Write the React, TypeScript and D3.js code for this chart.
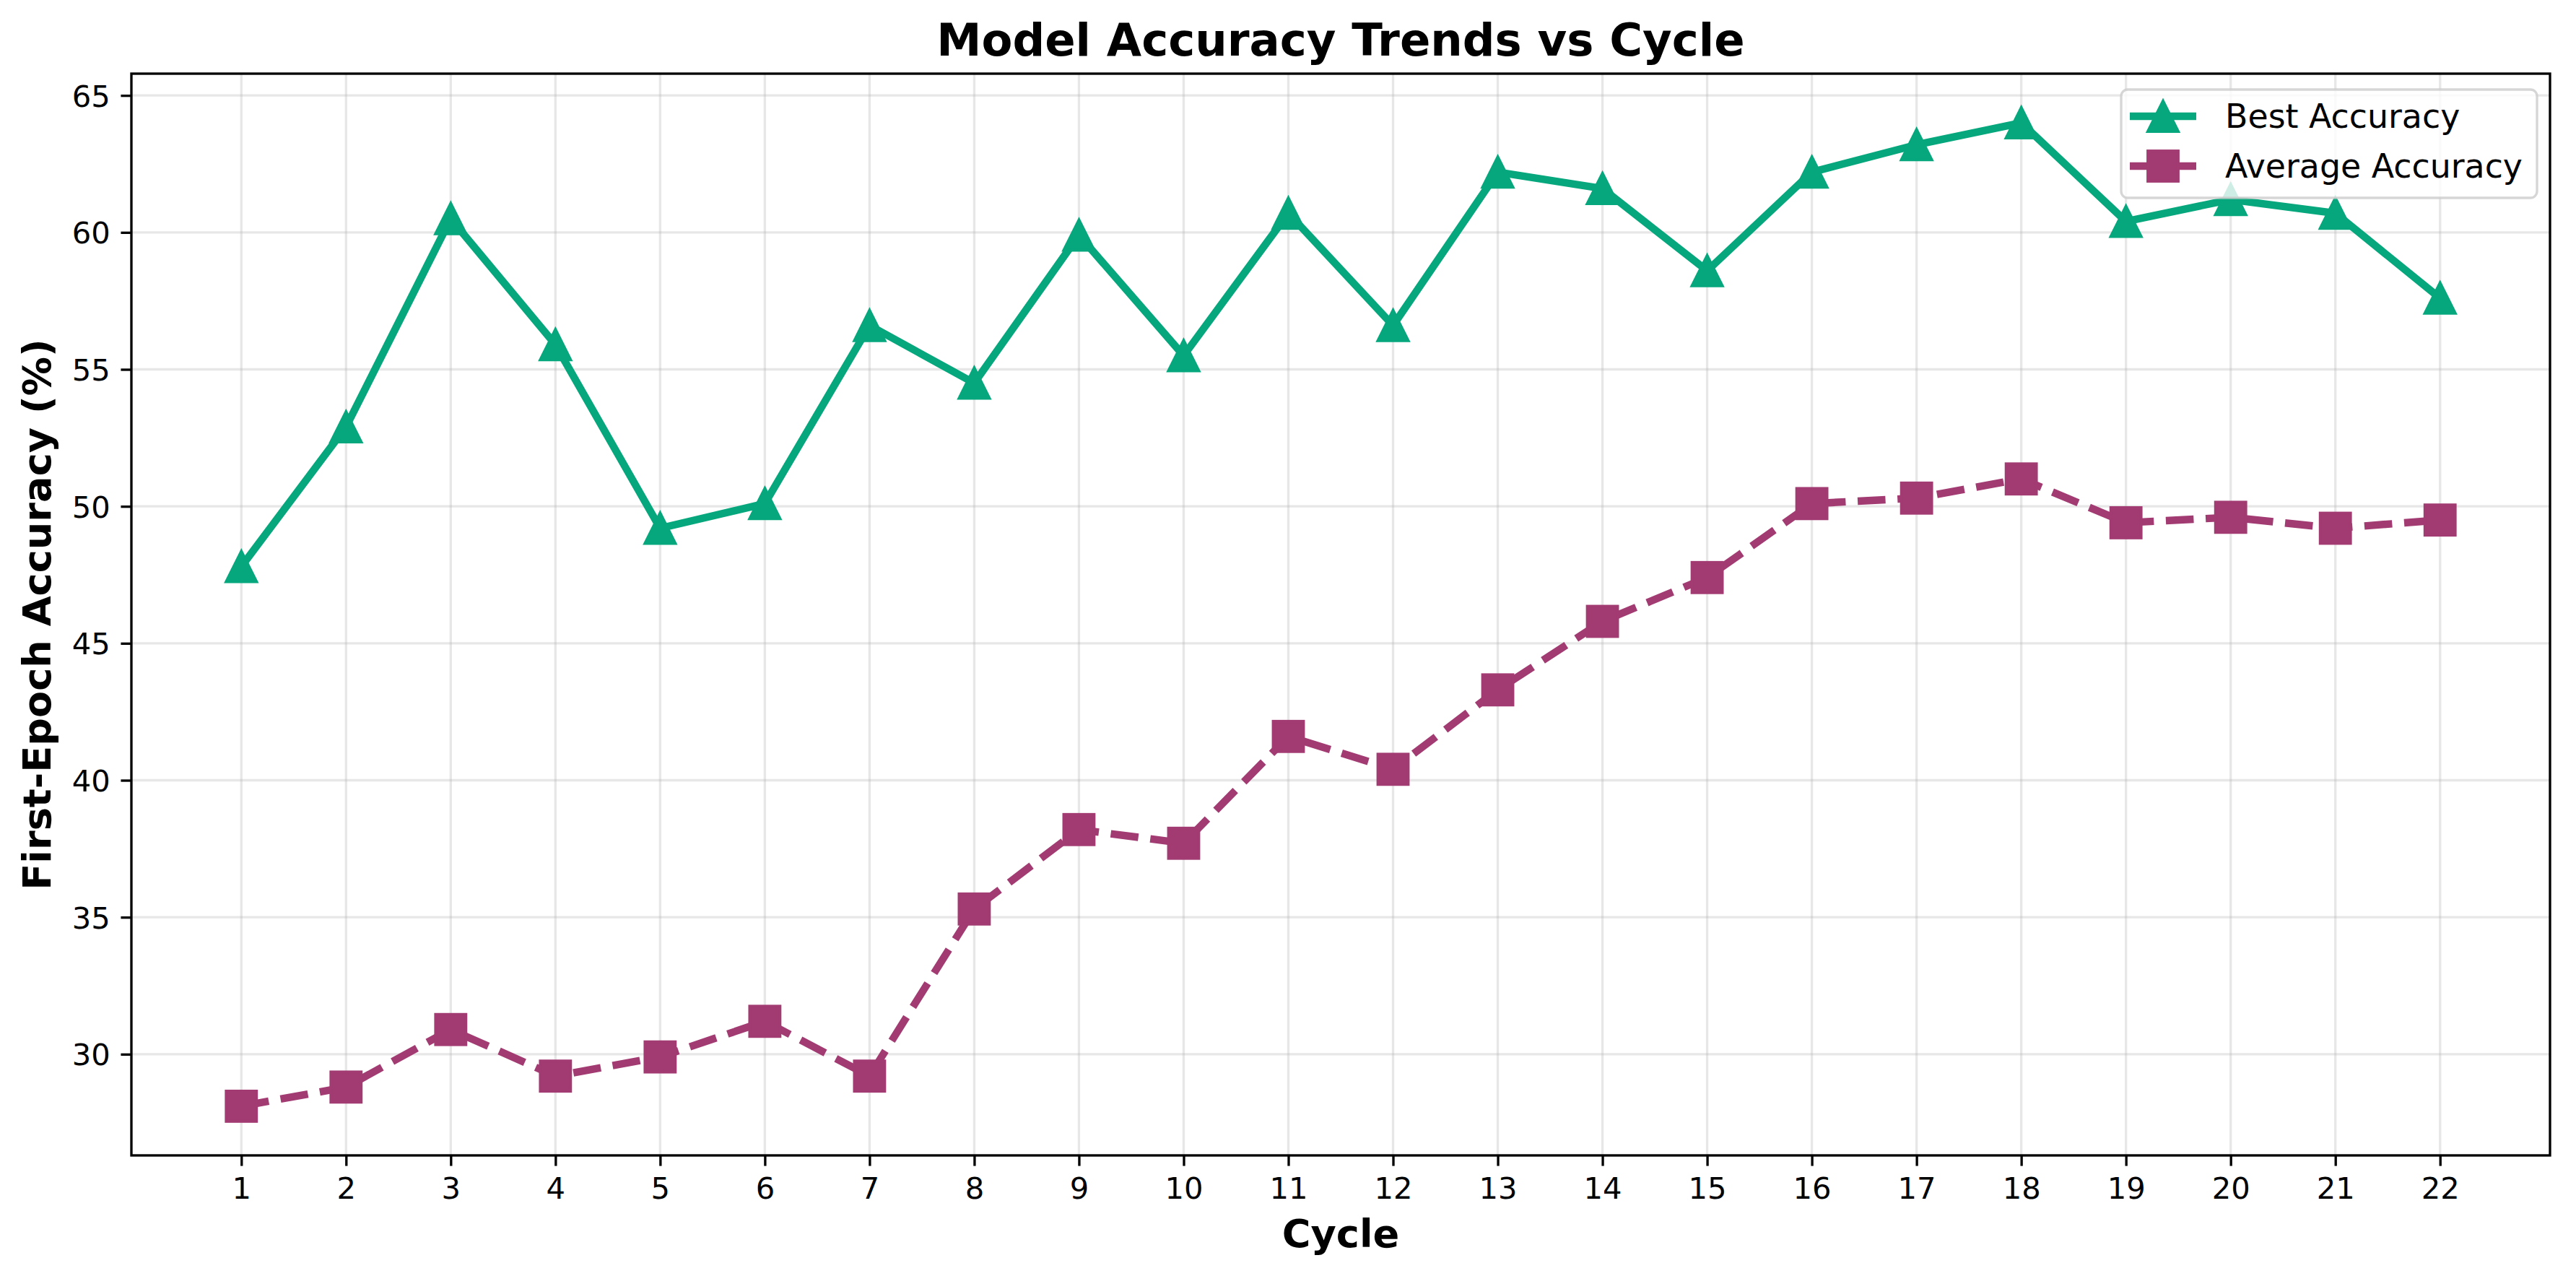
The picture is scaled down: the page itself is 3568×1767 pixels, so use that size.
import { useEffect, useRef } from 'react';
import * as d3 from 'd3';

const cycles = [1, 2, 3, 4, 5, 6, 7, 8, 9, 10, 11, 12, 13, 14, 15, 16, 17, 18, 19, 20, 21, 22];
const bestAccuracy = [47.8, 52.9, 60.5, 55.9, 49.2, 50.1, 56.6, 54.5, 59.9, 55.5, 60.7, 56.6, 62.2, 61.6, 58.6, 62.2, 63.2, 64.0, 60.4, 61.2, 60.7, 57.6];
const averageAccuracy = [28.1, 28.8, 30.9, 29.2, 29.9, 31.2, 29.2, 35.3, 38.2, 37.7, 41.6, 40.4, 43.3, 45.8, 47.4, 50.1, 50.3, 51.0, 49.4, 49.6, 49.2, 49.5];
const yTicks = [30, 35, 40, 45, 50, 55, 60, 65];
const seriesNames = ['Best Accuracy', 'Average Accuracy'];

const WIDTH = 3568;
const HEIGHT = 1767;
const PT = 300 / 72; // px per point at 300 dpi
const FONT = '"DejaVu Sans", sans-serif';
const GREEN = '#06A77D';
const PURPLE = '#A23B72';

export default function App() {
  const svgRef = useRef<SVGSVGElement>(null);

  useEffect(() => {
    document.body.style.margin = '0';
    if (!svgRef.current) return;

    const margin = { top: 102, right: WIDTH - 3532, bottom: HEIGHT - 1600, left: 182 };
    const W = WIDTH - margin.left - margin.right;
    const H = HEIGHT - margin.top - margin.bottom;

    const svg = d3.select(svgRef.current);
    svg.selectAll('*').remove();
    svg.append('rect').attr('width', WIDTH).attr('height', HEIGHT).attr('fill', 'white');

    const g = svg.append('g').attr('transform', `translate(${margin.left},${margin.top})`);

    // matplotlib-style 5% margins
    const xExt = d3.extent(cycles) as [number, number];
    const xPad = (xExt[1] - xExt[0]) * 0.05;
    const x = d3.scaleLinear().domain([xExt[0] - xPad, xExt[1] + xPad]).range([0, W]);

    const allVals = [...bestAccuracy, ...averageAccuracy];
    const yMin = d3.min(allVals) ?? 0;
    const yMax = d3.max(allVals) ?? 0;
    const yPad = (yMax - yMin) * 0.05;
    const y = d3.scaleLinear().domain([yMin - yPad, yMax + yPad]).range([H, 0]);

    svg.append('defs').append('clipPath').attr('id', 'plotClip')
      .append('rect').attr('width', W).attr('height', H);

    // grid
    const gridColor = '#b0b0b0';
    g.append('g').selectAll('line').data(cycles).enter().append('line')
      .attr('x1', (d) => x(d)).attr('x2', (d) => x(d)).attr('y1', 0).attr('y2', H)
      .attr('stroke', gridColor).attr('stroke-opacity', 0.3).attr('stroke-width', 0.8 * PT);
    g.append('g').selectAll('line').data(yTicks).enter().append('line')
      .attr('x1', 0).attr('x2', W).attr('y1', (d) => y(d)).attr('y2', (d) => y(d))
      .attr('stroke', gridColor).attr('stroke-opacity', 0.3).attr('stroke-width', 0.8 * PT);

    const plot = g.append('g').attr('clip-path', 'url(#plotClip)');
    const lw = 2.5 * PT;
    const dash = `${3.7 * 2.5 * PT},${1.6 * 2.5 * PT}`;
    const r = 5 * PT;
    const triPath = `M0,${-r}L${r},${r}L${-r},${r}Z`;

    const line = d3.line<number>().x((_, i) => x(cycles[i])).y((d) => y(d));

    // best accuracy
    plot.append('path').datum(bestAccuracy)
      .attr('fill', 'none').attr('stroke', GREEN).attr('stroke-width', lw)
      .attr('stroke-linejoin', 'round').attr('d', line);
    plot.append('g').selectAll('path').data(bestAccuracy).enter().append('path')
      .attr('d', triPath)
      .attr('transform', (d, i) => `translate(${x(cycles[i])},${y(d)})`)
      .attr('fill', GREEN).attr('stroke', GREEN).attr('stroke-width', PT).attr('stroke-linejoin', 'miter');

    // average accuracy
    plot.append('path').datum(averageAccuracy)
      .attr('fill', 'none').attr('stroke', PURPLE).attr('stroke-width', lw)
      .attr('stroke-dasharray', dash).attr('stroke-linejoin', 'round').attr('d', line);
    plot.append('g').selectAll('rect').data(averageAccuracy).enter().append('rect')
      .attr('x', (_, i) => x(cycles[i]) - r).attr('y', (d) => y(d) - r)
      .attr('width', 2 * r).attr('height', 2 * r)
      .attr('fill', PURPLE).attr('stroke', PURPLE).attr('stroke-width', PT);

    // spines
    g.append('rect').attr('width', W).attr('height', H)
      .attr('fill', 'none').attr('stroke', 'black').attr('stroke-width', 0.8 * PT);

    // x axis
    const xAxis = g.append('g').attr('transform', `translate(0,${H})`)
      .call(d3.axisBottom(x).tickValues(cycles).tickFormat(d3.format('d'))
        .tickSize(3.5 * PT).tickPadding(3.5 * PT));
    xAxis.select('.domain').remove();
    xAxis.selectAll('.tick line').attr('stroke', 'black').attr('stroke-width', 0.8 * PT);
    xAxis.selectAll('.tick text').attr('fill', 'black').attr('font-family', FONT)
      .attr('font-size', 10 * PT).attr('dy', '0.73em');

    // y axis
    const yAxis = g.append('g')
      .call(d3.axisLeft(y).tickValues(yTicks).tickFormat(d3.format('d'))
        .tickSize(3.5 * PT).tickPadding(3.5 * PT));
    yAxis.select('.domain').remove();
    yAxis.selectAll('.tick line').attr('stroke', 'black').attr('stroke-width', 0.8 * PT);
    yAxis.selectAll('.tick text').attr('fill', 'black').attr('font-family', FONT)
      .attr('font-size', 10 * PT).attr('dy', '0.36em');

    // title and labels
    svg.append('text').attr('x', margin.left + W / 2).attr('y', 77)
      .attr('text-anchor', 'middle').attr('font-family', FONT).attr('font-weight', 'bold')
      .attr('font-size', 15 * PT).text('Model Accuracy Trends vs Cycle');
    svg.append('text').attr('x', margin.left + W / 2).attr('y', 1727)
      .attr('text-anchor', 'middle').attr('font-family', FONT).attr('font-weight', 'bold')
      .attr('font-size', 13 * PT).text('Cycle');
    svg.append('text').attr('transform', `translate(70,${margin.top + H / 2}) rotate(-90)`)
      .attr('text-anchor', 'middle').attr('font-family', FONT).attr('font-weight', 'bold')
      .attr('font-size', 13 * PT).text('First-Epoch Accuracy (%)');

    // legend
    const lg = svg.append('g').attr('transform', 'translate(2938,124)');
    lg.append('rect').attr('width', 576).attr('height', 150).attr('rx', 0.2 * 11 * PT)
      .attr('fill', 'white').attr('fill-opacity', 0.8)
      .attr('stroke', '#cccccc').attr('stroke-opacity', 0.8).attr('stroke-width', 0.8 * PT);
    const rows = [
      { name: seriesNames[0], color: GREEN, dashed: false, cy: 37 },
      { name: seriesNames[1], color: PURPLE, dashed: true, cy: 106 },
    ];
    rows.forEach((row) => {
      const item = lg.append('g').attr('transform', `translate(0,${row.cy})`);
      item.append('line').attr('x1', 12).attr('x2', 104).attr('y1', 0).attr('y2', 0)
        .attr('stroke', row.color).attr('stroke-width', lw)
        .attr('stroke-dasharray', row.dashed ? dash : null);
      if (row.dashed) {
        item.append('rect').attr('x', 58 - r).attr('y', -r).attr('width', 2 * r).attr('height', 2 * r)
          .attr('fill', row.color).attr('stroke', row.color).attr('stroke-width', PT);
      } else {
        item.append('path').attr('d', triPath).attr('transform', 'translate(58,0)')
          .attr('fill', row.color).attr('stroke', row.color).attr('stroke-width', PT);
      }
      item.append('text').attr('x', 144).attr('y', 0).attr('dy', '0.35em')
        .attr('font-family', FONT).attr('font-size', 11 * PT).attr('fill', 'black').text(row.name);
    });
  }, []);

  return <svg ref={svgRef} width={WIDTH} height={HEIGHT} style={{ display: 'block' }} />;
}
